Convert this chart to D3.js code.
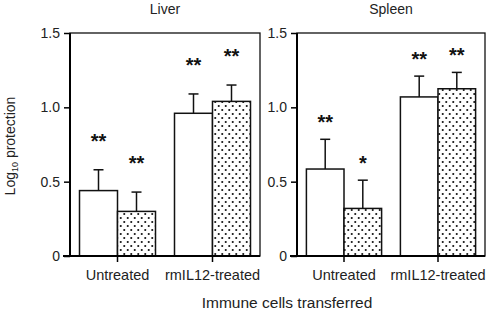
<!DOCTYPE html>
<html>
<head>
<meta charset="utf-8">
<script src="https://cdn.jsdelivr.net/npm/d3@7"></script>
<style>
  body { margin: 0; background: #fff; }
  svg { display: block; font-family: "Liberation Sans", Arial, sans-serif; }
</style>
</head>
<body>
<script>
// data
var panels = ['Liver', 'Spleen'];
var categories = ['Untreated', 'rmIL12-treated'];
var series = ['open', 'dotted'];
var liverValues = [[0.44, 0.30], [0.96, 1.04]];
var liverErrors = [[0.14, 0.13], [0.13, 0.11]];
var liverStars = [['**', '**'], ['**', '**']];
var spleenValues = [[0.585, 0.32], [1.07, 1.125]];
var spleenErrors = [[0.20, 0.19], [0.14, 0.11]];
var spleenStars = [['**', '*'], ['**', '**']];
var yTicks = [0, 0.5, 1.0, 1.5];
var yTickLabels = ['0', '0.5', '1.0', '1.5'];

const WIDTH = 492;
const HEIGHT = 315;
const TOP = 33;
const BOTTOM = 256;

var svg = d3.select('body').append('svg')
  .attr('width', WIDTH)
  .attr('height', HEIGHT);

var defs = svg.append('defs');
var pat = defs.append('pattern')
  .attr('id', 'dots')
  .attr('patternUnits', 'userSpaceOnUse')
  .attr('width', 7).attr('height', 8);
pat.append('rect').attr('width', 7).attr('height', 8).attr('fill', '#fff');
pat.append('circle').attr('cx', 1.75).attr('cy', 2).attr('r', 1.05).attr('fill', '#111');
pat.append('circle').attr('cx', 5.25).attr('cy', 6).attr('r', 1.05).attr('fill', '#111');

var yScale = d3.scaleLinear().domain([0, 1.5]).range([BOTTOM, TOP]);

var panelBoxes = [[70, 260], [297, 485]];
var panelData = [
  {values: liverValues, errors: liverErrors, stars: liverStars, starGap: 0.22},
  {values: spleenValues, errors: spleenErrors, stars: spleenStars, starGap: 0.145}
];

var drawPanel = function(i){
  var x0 = panelBoxes[i][0], x1 = panelBoxes[i][1];
  var d = panelData[i];
  var g = svg.append('g');

  var xScale = d3.scaleBand().domain(categories).range([x0, x1]).padding(0);
  var inner = d3.scaleBand().domain(series).range([-xScale.bandwidth() * 0.4, xScale.bandwidth() * 0.4]).padding(0);

  // frame
  g.append('rect')
    .attr('x', x0).attr('y', TOP)
    .attr('width', x1 - x0).attr('height', BOTTOM - TOP)
    .attr('fill', 'none').attr('stroke', '#111').attr('stroke-width', 1.3);

  // y axis
  var yAxis = d3.axisLeft(yScale).tickValues(yTicks)
    .tickFormat(function(v, k){ return yTickLabels[k]; })
    .tickSize(6).tickPadding(4);
  var ya = g.append('g').attr('transform', 'translate(' + x0 + ',0)').call(yAxis);
  ya.select('.domain').attr('stroke-width', 2).attr('d', 'M0,' + TOP + 'V' + BOTTOM);
  ya.selectAll('.tick line').attr('stroke-width', 1.5);
  ya.selectAll('text').attr('font-size', 14).attr('fill', '#222')
    .attr('font-family', '"Liberation Sans", Arial, sans-serif');

  // bars
  categories.forEach(function(c, ci){
    series.forEach(function(s, si){
      var v = d.values[ci][si], e = d.errors[ci][si];
      var bx = xScale(c) + xScale.bandwidth() / 2 + inner(s);
      var cx = bx + inner.bandwidth() / 2;
      g.append('line')
        .attr('x1', cx).attr('x2', cx)
        .attr('y1', yScale(v)).attr('y2', yScale(v + e))
        .attr('stroke', '#111').attr('stroke-width', 1.5);
      g.append('line')
        .attr('x1', cx - 5).attr('x2', cx + 5)
        .attr('y1', yScale(v + e)).attr('y2', yScale(v + e))
        .attr('stroke', '#111').attr('stroke-width', 1.5);
      g.append('rect')
        .attr('x', bx).attr('y', yScale(v))
        .attr('width', inner.bandwidth()).attr('height', BOTTOM - yScale(v))
        .attr('fill', si === 0 ? '#fff' : 'url(#dots)')
        .attr('stroke', '#111').attr('stroke-width', 1.5);
      g.append('text')
        .attr('x', cx).attr('y', yScale(v + e + d.starGap) + 11)
        .attr('text-anchor', 'middle')
        .attr('font-size', 20).attr('font-weight', 'bold').attr('fill', '#111')
        .text(d.stars[ci][si]);
    });
  });

  // x axis
  var xAxis = d3.axisBottom(xScale).tickSize(6).tickPadding(8).tickSizeOuter(0);
  var xa = g.append('g').attr('transform', 'translate(0,' + BOTTOM + ')').call(xAxis);
  xa.select('.domain').attr('stroke-width', 2).attr('d', 'M' + (x0 - 7) + ',0H' + x1);
  xa.selectAll('.tick line').attr('stroke-width', 1.5);
  xa.selectAll('text').attr('font-size', 14.5).attr('fill', '#222')
    .attr('font-family', '"Liberation Sans", Arial, sans-serif');

  // panel title
  svg.append('text')
    .attr('x', (x0 + x1) / 2).attr('y', 14)
    .attr('text-anchor', 'middle').attr('font-size', 14).attr('fill', '#222')
    .text(panels[i]);
};

panels.forEach(function(p, i){ drawPanel(i); });

svg.append('text')
  .attr('x', 287).attr('y', 308)
  .attr('text-anchor', 'middle').attr('font-size', 15.5).attr('fill', '#222')
  .text('Immune cells transferred');

var yl = svg.append('text')
  .attr('transform', 'translate(15,146) rotate(-90)')
  .attr('text-anchor', 'middle').attr('font-size', 14).attr('fill', '#222');
yl.append('tspan').text('Log');
yl.append('tspan').attr('font-size', 9).attr('dy', 3).text('10');
yl.append('tspan').attr('dy', -3).text(' protection');
</script>
</body>
</html>
